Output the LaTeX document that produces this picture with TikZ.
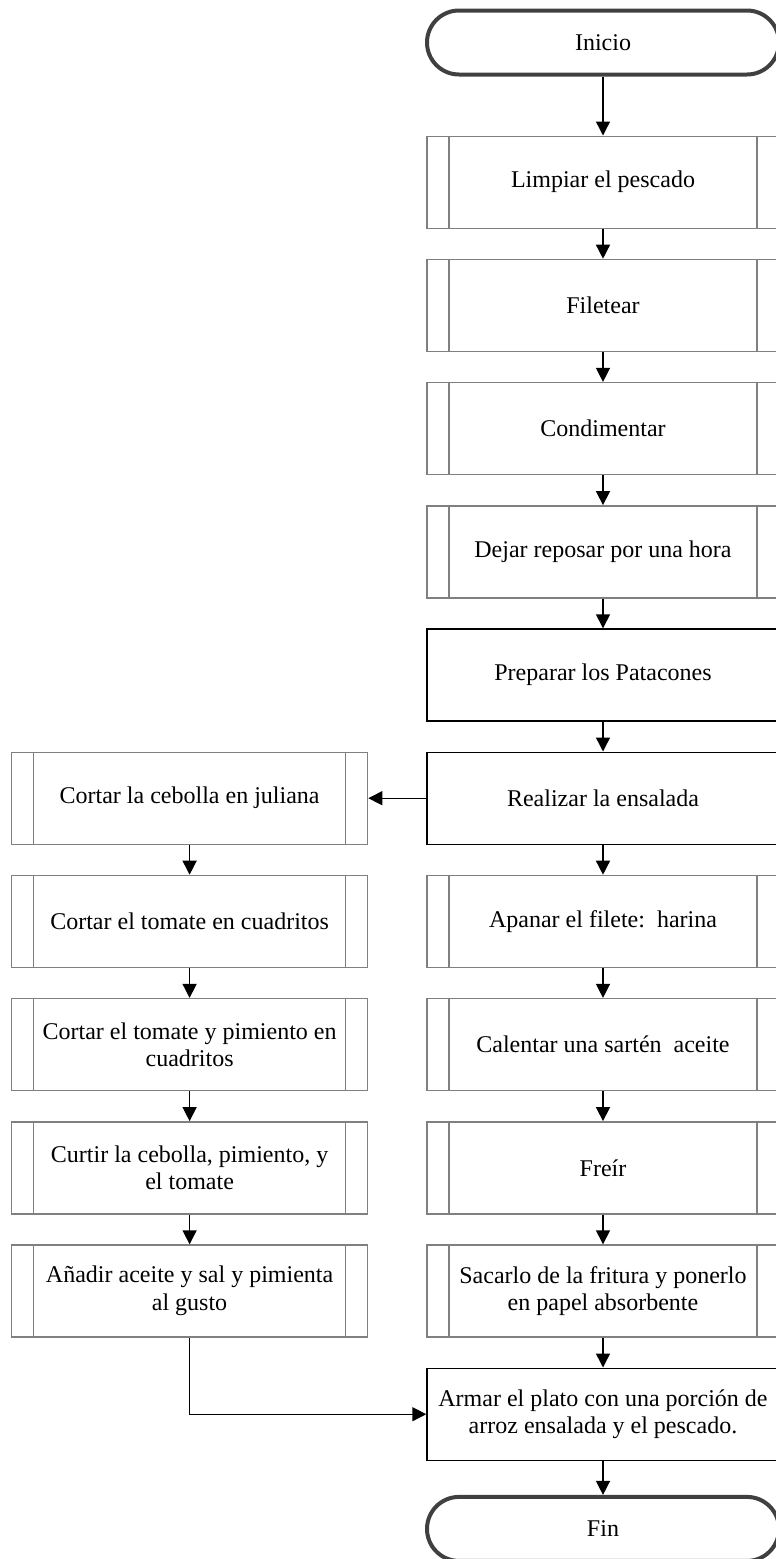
\documentclass[tikz,border=0pt]{standalone}
\usepackage{fontspec}
\setmainfont{Liberation Serif}
\usetikzlibrary{arrows.meta, positioning}

\begin{document}
\begin{tikzpicture}[
    font=\fontsize{12}{13.8}\selectfont,
    node distance=14.9pt,
    terminal/.style={draw=black!75, line width=2pt, rounded corners=16pt, minimum width=176pt, minimum height=32pt},
    procbox/.style={draw, line width=0.7pt, align=center, minimum width=176pt, minimum height=46pt},
    subproc/.style={draw=gray, line width=0.7pt, align=center, minimum width=176pt, minimum height=46pt,
        path picture={
            \draw[gray, line width=0.7pt]
              ([xshift=11pt]path picture bounding box.north west) -- ([xshift=11pt]path picture bounding box.south west)
              ([xshift=-11pt]path picture bounding box.north east) -- ([xshift=-11pt]path picture bounding box.south east);
        }},
    leftproc/.style={subproc, minimum width=178pt},
    arrow/.style={-{Triangle[length=7pt, width=7pt]}, line width=0.7pt}
]
  \useasboundingbox (0,0) rectangle (388pt,-779.5pt);

  % main column
  \node[terminal] (inicio) at (301.5pt,-21.25pt) {Inicio};
  \node[subproc, below=29.5pt of inicio] (limpiar) {Limpiar el pescado};
  \node[subproc, below=of limpiar] (filetear) {Filetear};
  \node[subproc, below=of filetear] (condim) {Condimentar};
  \node[subproc, below=of condim] (reposar) {Dejar reposar por una hora};
  \node[procbox, below=of reposar] (patacones) {Preparar los Patacones};
  \node[procbox, below=of patacones] (ensalada) {Realizar la ensalada};
  \node[subproc, below=of ensalada] (apanar) {Apanar el filete:\ \ harina};
  \node[subproc, below=of apanar] (calentar) {Calentar una sartén\ \ aceite};
  \node[subproc, below=of calentar] (freir) {Freír};
  \node[subproc, below=of freir] (sacar) {Sacarlo de la fritura y ponerlo\\en papel absorbente};
  \node[procbox, below=of sacar] (armar) {Armar el plato con una porción de\\arroz ensalada y el pescado.};
  \node[terminal, below=17pt of armar] (fin) {Fin};

  % salad column
  \node[leftproc, left=29pt of ensalada] (cebolla) {Cortar la cebolla en juliana};
  \node[leftproc, below=of cebolla] (tomate) {Cortar el tomate en cuadritos};
  \node[leftproc, below=of tomate] (pimiento) {Cortar el tomate y pimiento en\\cuadritos};
  \node[leftproc, below=of pimiento] (curtir) {Curtir la cebolla, pimiento, y\\el tomate};
  \node[leftproc, below=of curtir] (anadir) {Añadir aceite y sal y pimienta\\al gusto};

  \draw[arrow] (inicio) -- (limpiar);
  \draw[arrow] (limpiar) -- (filetear);
  \draw[arrow] (filetear) -- (condim);
  \draw[arrow] (condim) -- (reposar);
  \draw[arrow] (reposar) -- (patacones);
  \draw[arrow] (patacones) -- (ensalada);
  \draw[arrow] (ensalada) -- (apanar);
  \draw[arrow] (apanar) -- (calentar);
  \draw[arrow] (calentar) -- (freir);
  \draw[arrow] (freir) -- (sacar);
  \draw[arrow] (sacar) -- (armar);
  \draw[arrow] (armar) -- (fin);

  \draw[arrow] (ensalada) -- (cebolla);
  \draw[arrow] (cebolla) -- (tomate);
  \draw[arrow] (tomate) -- (pimiento);
  \draw[arrow] (pimiento) -- (curtir);
  \draw[arrow] (curtir) -- (anadir);
  \draw[arrow] (anadir.south) |- (armar.west);
\end{tikzpicture}
\end{document}
